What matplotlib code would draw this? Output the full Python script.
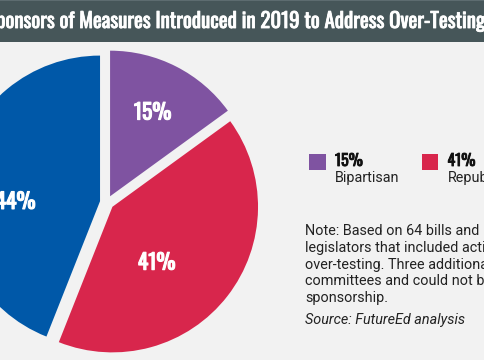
import matplotlib
matplotlib.use("Agg")
import matplotlib.pyplot as plt
from matplotlib.patches import Rectangle
from matplotlib import font_manager as fm
import matplotlib.patheffects as pe
import numpy as np

# ---- data ----
categories = ["Bipartisan", "Republican", "Democrat"]
values = [15, 41, 44]
colors = ["#7f53a1", "#d8264c", "#0058a8"]
title = "Sponsors of Measures Introduced in 2019 to Address Over-Testing"
note_lines = [
    "Note: Based on 64 bills and resolutions",
    "legislators that included actions to reduce",
    "over-testing. Three additional bills were",
    "committees and could not be assigned",
    "sponsorship.",
]
source = "Source: FutureEd analysis"

W, H, DPI = 485, 360, 100
BG = "#f2f2f2"
BAR = "#465659"

avail = {f.name for f in fm.fontManager.ttflist}
def pick(*names):
    for n in names:
        if n in avail:
            return n
    return "DejaVu Sans"

COND = pick("Oswald", "Liberation Sans Narrow", "DejaVu Sans")
SANS = pick("Roboto", "Liberation Sans", "DejaVu Sans")

def bold(color, lw):
    return [pe.withStroke(linewidth=lw, foreground=color)]

fig = plt.figure(figsize=(W / DPI, H / DPI), dpi=DPI, facecolor=BG)
ax = fig.add_axes([0, 0, 1, 1])
ax.set_facecolor(BG)

# pie
R = 145.6
cx, cy = 106.9, H - 202.5
wedges, _ = ax.pie(values, colors=colors, startangle=90, counterclock=False,
                   explode=[0.048 * R] * 3, radius=R, center=(cx, cy),
                   wedgeprops=dict(linewidth=0))
# percentage labels inside wedges (layout tweaks per wedge)
lab_dist = [0.645, 0.49, 0.58]
lab_ang = [0.0, -13.8, 11.3]
for w, v, d, da in zip(wedges, values, lab_dist, lab_ang):
    mid = 0.5 * (w.theta1 + w.theta2) + da
    wx, wy = w.center
    x = wx + d * R * np.cos(np.radians(mid))
    y = wy + d * R * np.sin(np.radians(mid))
    ax.text(x, y, f"{v}%", color="white", fontsize=15.5, family=COND,
            ha="center", va="center", path_effects=bold("white", 0.8))

ax.set_xlim(0, W)
ax.set_ylim(0, H)
ax.set_aspect("equal")
ax.set_axis_off()

# title bar
ax.add_patch(Rectangle((0, H - 42), W, 42, facecolor=BAR, edgecolor="none", zorder=5))
ax.add_patch(Rectangle((0, H - 1.2), W, 1.2, facecolor="#5d6c70", edgecolor="none", zorder=6))
t = ax.text(483.5, H - 21, title, color="white", family=COND,
            fontsize=13, ha="right", va="center", zorder=7,
            path_effects=bold("white", 0.6))
fig.canvas.draw()
r = fig.canvas.get_renderer()
probe = ax.text(0, 0, title[1:], family=COND, fontsize=13)
wpx = probe.get_window_extent(r).width
probe.remove()
t.set_fontsize(13 * 489.0 / wpx)

# legend
leg_x = [309.5, 422]
for i in range(2):
    ax.add_patch(Rectangle((leg_x[i], H - 170.5), 16.5, 16.5,
                           facecolor=colors[i], edgecolor="none"))
    ax.text(leg_x[i] + 25.5, H - 161.5, f"{values[i]}%", fontsize=11.5,
            family=COND, color="#111111", ha="left", va="center",
            path_effects=bold("#111111", 0.6))
    ax.text(leg_x[i] + 25.5, H - 182, categories[i], fontsize=10.4,
            family=SANS, color="#222222", ha="left", va="baseline")

# note
for k, line in enumerate(note_lines):
    ax.text(305, H - (235 + 16.8 * k), line, fontsize=10.4, family=SANS,
            color="#222222", ha="left", va="baseline")
ax.text(305, H - 324, source, fontsize=10.4, family=SANS, style="italic",
        color="#222222", ha="left", va="baseline")

fig.savefig("out.png", dpi=DPI, facecolor=BG)
